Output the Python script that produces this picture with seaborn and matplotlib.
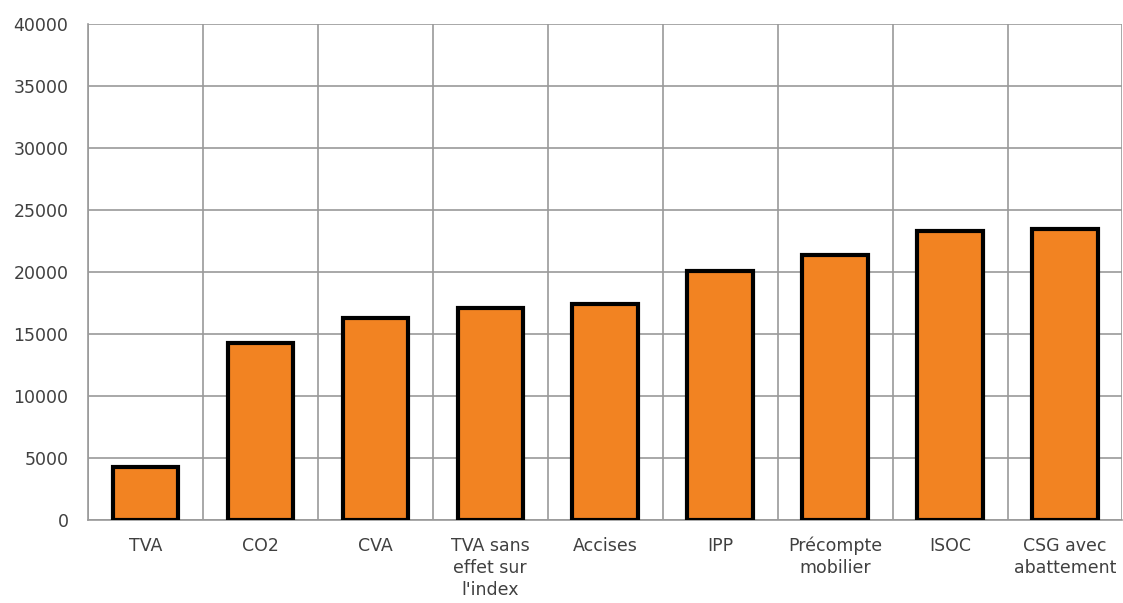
import matplotlib
matplotlib.use("Agg")
import matplotlib.pyplot as plt
import seaborn as sns
import pandas as pd
import numpy as np

categories = ["TVA", "CO2", "CVA", "TVA sans\neffet sur\nl'index", "Accises", "IPP",
              "Précompte\nmobilier", "ISOC", "CSG avec\nabattement"]
values = [4300, 14300, 16300, 17100, 17400, 20100, 21400, 23300, 23500]
y_ticks = [0, 5000, 10000, 15000, 20000, 25000, 30000, 35000, 40000]

df = pd.DataFrame({"impot": categories, "valeur": values})

sns.set_theme(style="white")
plt.rcParams["font.family"] = ["DejaVu Sans"]

fig = plt.figure(figsize=(11.23, 6.03), dpi=100)
ax = fig.add_axes([88 / 1123, 1 - 520 / 603, 1 - 88 / 1123 - 0.0005, (520 - 24) / 603])

sns.barplot(data=df, x="impot", y="valeur", ax=ax, color="#F28322",
            edgecolor="black", linewidth=3, width=0.57, saturation=1, zorder=3)

ax.set_ylim(0, 40000)
ax.set_xlim(-0.5, len(categories) - 0.5)
ax.set_yticks(y_ticks)
ax.set_yticklabels([str(v) for v in y_ticks])

# vertical grid between categories, horizontal grid on the y ticks
ax.set_xticks(np.arange(-0.5, len(categories), 1.0), minor=True)
ax.grid(axis="y", which="major", color="#9a9a9a", linewidth=1.2, zorder=0)
ax.grid(axis="x", which="minor", color="#9a9a9a", linewidth=1.2, zorder=0)
ax.grid(axis="x", which="major", visible=False)
ax.set_axisbelow(True)

for side in ["top", "right"]:
    ax.spines[side].set_visible(False)
ax.spines["left"].set_color("#9a9a9a")
ax.spines["left"].set_linewidth(1.2)
ax.spines["bottom"].set_color("#9a9a9a")
ax.spines["bottom"].set_linewidth(1.2)

ax.tick_params(axis="both", which="both", length=0, labelsize=12.5, colors="#404040")
ax.tick_params(axis="y", pad=14)
ax.tick_params(axis="x", pad=12)
for lbl in ax.get_xticklabels():
    lbl.set_linespacing(1.3)

ax.set_xlabel("")
ax.set_ylabel("")

fig.savefig("out.png", dpi=100)
